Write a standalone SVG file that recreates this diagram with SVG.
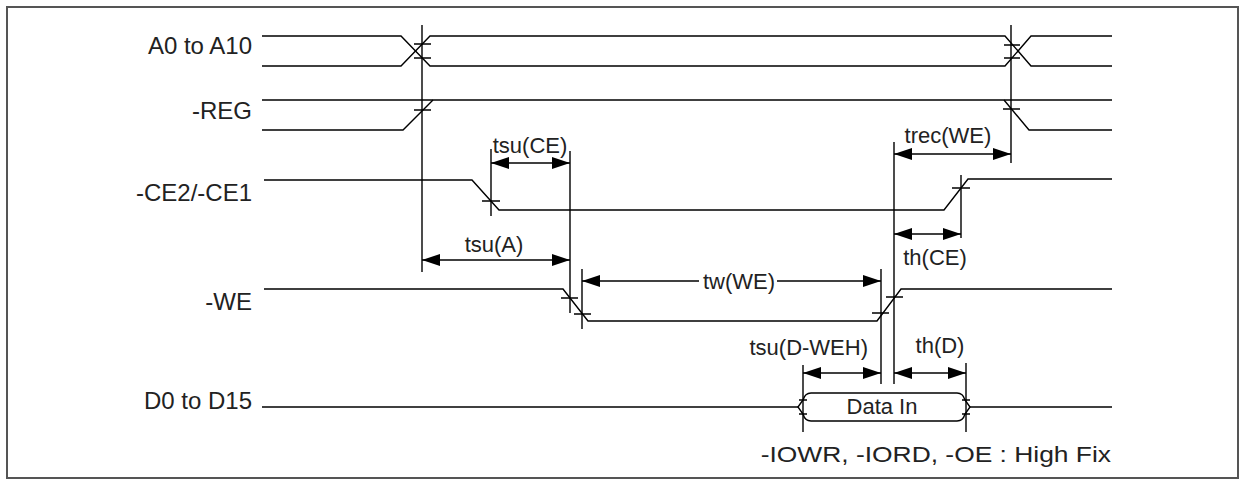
<svg xmlns="http://www.w3.org/2000/svg" width="1245" height="485" viewBox="0 0 1245 485">
<defs>
<marker id="ah" viewBox="0 0 18 12" refX="18" refY="6" markerWidth="18" markerHeight="12" markerUnits="userSpaceOnUse" orient="auto-start-reverse">
<path d="M0,0 L18,6 L0,12 Z" fill="#000"/>
</marker>
</defs>
<style>
.t{font-family:"Liberation Sans",Arial,sans-serif;font-size:22px;fill:#222}
.lbl{text-anchor:end;font-size:24px}
.c{text-anchor:middle}
.s{fill:none;stroke:#000;stroke-width:1.4}
.v{fill:none;stroke:#000;stroke-width:1.4}
.d{fill:none;stroke:#000;stroke-width:1.4;marker-start:url(#ah);marker-end:url(#ah)}
</style>
<rect x="7" y="7" width="1231" height="471" fill="#fff" stroke="#555" stroke-width="2"/>

<g id="sig-a">
<text class="t lbl" x="252" y="54">A0 to A10</text>
<path class="s" d="M262,36 H401 L430,66 H1005 L1031,36 H1112"/>
<path class="s" d="M262,66 H401 L430,36 H1005 L1031,66 H1112"/>
<path class="s" d="M414,44 H431 M414,58 H431 M1004,45 H1020 M1004,58 H1020"/>
</g>
<g id="sig-reg">
<text class="t lbl" x="252" y="119">-REG</text>
<path class="s" d="M262,100 H1112"/>
<path class="s" d="M262,130 H403 L433,100"/>
<path class="s" d="M1004,100 L1029,130 H1112"/>
<path class="s" d="M414,110 H431 M1003,109 H1020"/>
</g>
<g id="sig-ce">
<text class="t lbl" x="252" y="201">-CE2/-CE1</text>
<path class="s" d="M264,180 H472 L499,210 H944 L968,179 H1112"/>
<path class="s" d="M482,201 H500 M952,188 H970"/>
</g>
<g id="sig-we">
<text class="t lbl" x="252" y="310">-WE</text>
<path class="s" d="M264,289 H563 L588,321 H877 L901,289 H1112"/>
<path class="s" d="M561,298 H578 M574,314 H591 M872,313 H889 M886,297 H903"/>
</g>
<g id="sig-d">
<text class="t lbl" x="252" y="409">D0 to D15</text>
<path class="s" d="M262,407 H798"/>
<path class="s" d="M798,407 L803,400 Q805,393 811,393 H957 Q963,393 965,400 L970,407 L965,414 Q963,421 957,421 H811 Q805,421 803,414 Z"/>
<path class="s" d="M970,407 H1112"/>
<path class="s" d="M799,400 H807 M799,414 H807 M962,400 H970 M962,414 H970"/>
<text class="t c" x="882" y="414">Data In</text>
</g>

<g id="connectors">
<path class="v" d="M422,25 V272 M1011,25 V163 M491,149 V216 M570,151 V313 M582,269 V329 M881,269 V384 M894,142 V384 M961,175 V238 M803,365 V432 M966,363 V432"/>
<path class="d" d="M491,163 H570"/>
<path class="d" d="M894,154 H1011"/>
<path class="d" d="M894,234 H961"/>
<path class="d" d="M422,260 H570"/>
<path class="s" d="M582,281 H699" marker-start="url(#ah)"/>
<path class="s" d="M777,281 H881" marker-end="url(#ah)"/>
<path class="d" d="M803,373 H881"/>
<path class="d" d="M894,373 H966"/>
</g>

<g id="labels">
<text class="t c" x="530" y="153">tsu(CE)</text>
<text class="t c" x="948" y="143">trec(WE)</text>
<text class="t c" x="494" y="252">tsu(A)</text>
<text class="t c" x="935" y="265">th(CE)</text>
<text class="t c" x="739" y="289">tw(WE)</text>
<text class="t" x="868" y="355" text-anchor="end">tsu(D-WEH)</text>
<text class="t c" x="940" y="353">th(D)</text>
<text class="t" transform="translate(1111,462) scale(1.2,1)" x="0" y="0" font-size="23" text-anchor="end">-IOWR, -IORD, -OE : High Fix</text>
</g>
</svg>
